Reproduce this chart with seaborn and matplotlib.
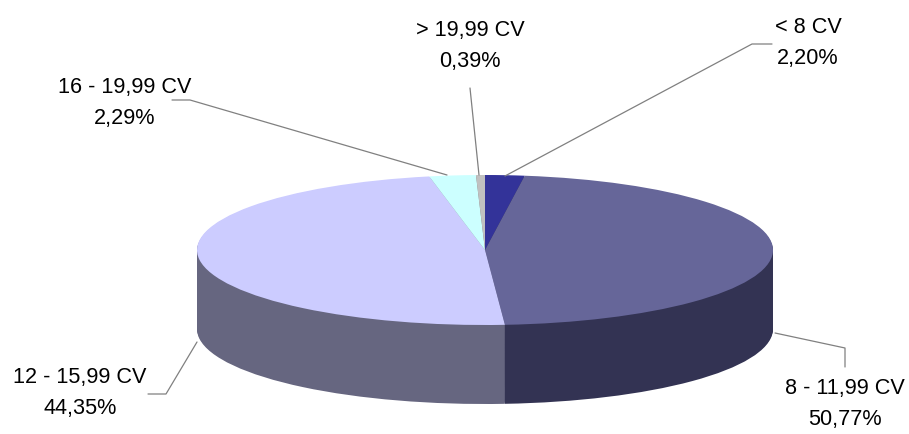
import numpy as np
import matplotlib
matplotlib.use("Agg")
import matplotlib.pyplot as plt
import seaborn as sns

sns.set_theme(style="white")
plt.rcParams['font.family'] = ['Liberation Sans', 'DejaVu Sans']

categories = ["< 8 CV", "8 - 11,99 CV", "12 - 15,99 CV", "16 - 19,99 CV", "> 19,99 CV"]
printed_labels = ["2,20%", "50,77%", "44,35%", "2,29%", "0,39%"]
# Slice sizes as they appear in the drawing (the 3D view skews them from the printed labels)
drawn_shares = [2.2, 46.7, 48.0, 2.6, 0.5]

top_colors = sns.color_palette(["#333399", "#666699", "#CCCCFF", "#CCFFFF", "#C0C0C0"])
side_colors = sns.color_palette(["#1F1F5C", "#333353", "#666680", "#80A0A0", "#808080"])

W, H = 909, 434
fig = plt.figure(figsize=(W / 100, H / 100), dpi=100)

CX, CY, RX, RY, DEPTH = 485, 250, 288, 75, 79
ax = fig.add_axes([0, 0, 1, 1])


def layer(offset, colors):
    ax.pie(drawn_shares, colors=colors, startangle=90, counterclock=False,
           center=(0, -offset), radius=1, wedgeprops=dict(linewidth=0), frame=True)


for off in np.linspace(DEPTH / RY, 0, 80, endpoint=False):
    layer(off, side_colors)
layer(0, top_colors)

ax.set_aspect("auto")
ax.set_xlim(-CX / RX, (W - CX) / RX)
ax.set_ylim(-(H - CY) / RY, CY / RY)
ax.axis("off")

# overlay in pixel coordinates for labels and leader lines
ov = fig.add_axes([0, 0, 1, 1], facecolor="none")
ov.set_xlim(0, W)
ov.set_ylim(H, 0)
ov.axis("off")

label_pos = [(808, 43), (845, 404), (80, 393), (125, 103), (470, 46)]
leaders = [
    [(505, 176), (752, 44), (772, 44)],
    [(775, 333), (845, 348), (845, 367)],
    [(197, 342), (166, 394), (148, 394)],
    [(447, 175), (190, 100), (172, 100)],
    [(479, 175), (470, 88)],
]
for name, pct, (x, y), pts in zip(categories, printed_labels, label_pos, leaders):
    ov.text(x, y, f"{name}\n{pct}", ha="center", va="center", fontsize=15.6,
            color="black", linespacing=1.62)
    xs, ys = zip(*pts)
    ov.plot(xs, ys, color="#808080", lw=0.9)

fig.savefig("out.png", dpi=100, facecolor="white")
